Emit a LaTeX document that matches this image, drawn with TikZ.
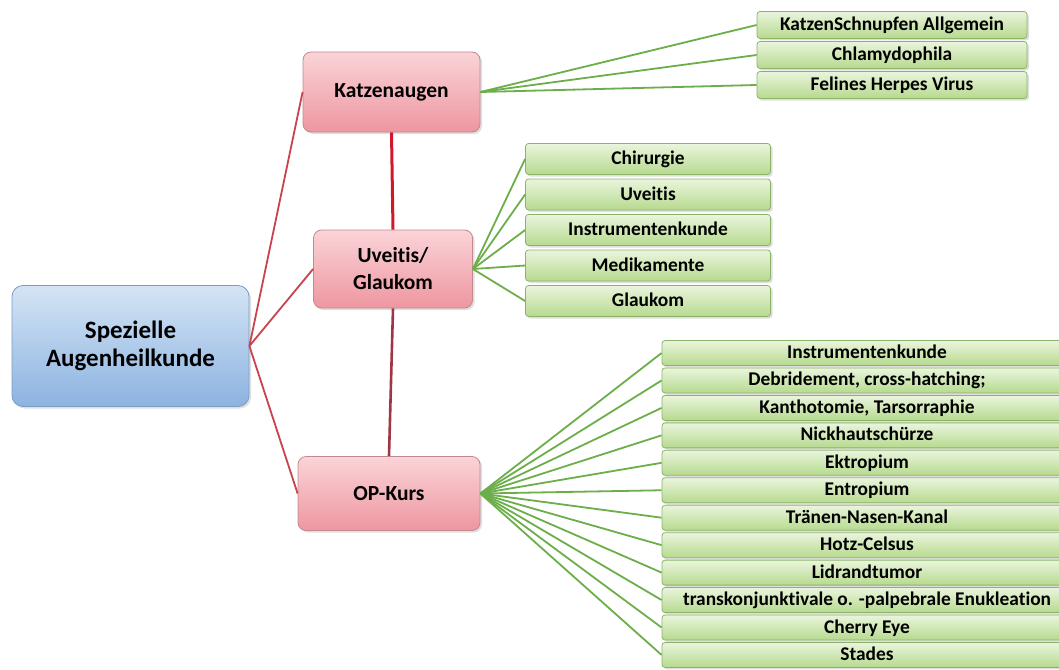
\documentclass[tikz,border=0pt]{standalone}
\usepackage{fontspec}
\setmainfont{Carlito}[Ligatures=NoCommon]
\usetikzlibrary{positioning,shadows}
\definecolor{rootTop}{HTML}{D4E4F5}
\definecolor{rootBot}{HTML}{8CB3E0}
\definecolor{rootLine}{HTML}{7C9CC4}
\definecolor{subTop}{HTML}{FAD4D8}
\definecolor{subBot}{HTML}{EE96A0}
\definecolor{subLine}{HTML}{C08A8E}
\definecolor{leafTop}{HTML}{EAF5DD}
\definecolor{leafBot}{HTML}{B6DA8E}
\definecolor{leafLine}{HTML}{8DB36A}
\definecolor{redLn}{HTML}{C8434E}
\definecolor{redBright}{HTML}{D01828}
\definecolor{redMaroon}{HTML}{9E3646}
\definecolor{greenLn}{HTML}{6BAE4A}
\tikzset{
  mapbox/.style={draw,thick,align=center,inner sep=2pt,
                 drop shadow={opacity=0.25,shadow xshift=2pt,shadow yshift=-2pt}},
  rootbox/.style={mapbox,draw=rootLine,top color=rootTop,bottom color=rootBot,
                  rounded corners=11pt,minimum width=237pt,minimum height=121pt,
                  font=\bfseries\fontsize{25}{28}\selectfont},
  subbox/.style={mapbox,draw=subLine,top color=subTop,bottom color=subBot,
                 rounded corners=8pt,font=\bfseries\fontsize{21.5}{27}\selectfont},
  leaf/.style={mapbox,draw=leafLine,top color=leafTop,bottom color=leafBot,
               rounded corners=3pt,inner sep=0pt,text height=15pt,text depth=4pt,
               font=\bfseries\fontsize{19.4}{22}\selectfont},
  kleaf/.style={leaf,minimum width=270pt,minimum height=27pt},
  uleaf/.style={leaf,minimum width=245pt,minimum height=31pt},
  oleaf/.style={leaf,minimum width=410pt,minimum height=25pt},
  rln/.style={draw=redLn,line width=1.8pt},
  gln/.style={draw=greenLn,line width=1.8pt},
}
\begin{document}
\begin{tikzpicture}[x=1pt,y=-1pt]
\useasboundingbox (0,0) rectangle (1059,669);
\clip (0,0) rectangle (1059,669);

\node[rootbox] (root) at (130.5,346) {Spezielle\\Augenheilkunde};
\node[subbox,minimum width=177pt,minimum height=80pt] (katz) at (391.5,92) {Katzenaugen};
\node[subbox,minimum width=159pt,minimum height=78pt] (uveit) at (393,269) {Uveitis/\\Glaukom};
\node[subbox,minimum width=182pt,minimum height=74pt] (opk) at (389,493.5) {OP-Kurs};

% Katzenaugen
\node[kleaf] (k1) at (892,25) {KatzenSchnupfen Allgemein};
\node[kleaf,below=2.2pt of k1] (k2) {Chlamydophila};
\node[kleaf,below=2.2pt of k2] (k3) {Felines Herpes Virus};

% Uveitis/Glaukom
\node[uleaf] (u1) at (648,159) {Chirurgie};
\node[uleaf,below=3.7pt of u1] (u2) {Uveitis};
\node[uleaf,below=3.7pt of u2] (u3) {Instrumentenkunde};
\node[uleaf,below=3.7pt of u3] (u4) {Medikamente};
\node[uleaf,below=3.7pt of u4] (u5) {Glaukom};

% OP-Kurs
\node[oleaf] (o1) at (867,353) {Instrumentenkunde};
\node[oleaf,below=1.65pt of o1] (o2) {Debridement, cross-hatching;};
\node[oleaf,below=1.65pt of o2] (o3) {Kanthotomie, Tarsorraphie};
\node[oleaf,below=1.65pt of o3] (o4) {Nickhautschürze};
\node[oleaf,below=1.65pt of o4] (o5) {Ektropium};
\node[oleaf,below=1.65pt of o5] (o6) {Entropium};
\node[oleaf,below=1.65pt of o6] (o7) {Tränen-Nasen-Kanal};
\node[oleaf,below=1.65pt of o7] (o8) {Hotz-Celsus};
\node[oleaf,below=1.65pt of o8] (o9) {Lidrandtumor};
\node[oleaf,below=1.65pt of o9] (o10) {transkonjunktivale o. -palpebrale Enukleation};
\node[oleaf,below=1.65pt of o10] (o11) {Cherry Eye};
\node[oleaf,below=1.65pt of o11] (o12) {Stades};

\draw[rln] (root.east) -- (katz.west);
\draw[rln] (root.east) -- (uveit.west);
\draw[rln] (root.east) -- (opk.west);
\draw[draw=redBright,line width=3pt] (katz.south) -- (uveit.north);
\draw[draw=redMaroon,line width=2.6pt] (uveit.south) -- (opk.north);

\foreach \n in {k1,k2,k3} \draw[gln] (katz.east) -- (\n.west);
\foreach \n in {u1,u2,u3,u4,u5} \draw[gln] (uveit.east) -- (\n.west);
\foreach \n in {o1,o2,o3,o4,o5,o6,o7,o8,o9,o10,o11,o12} \draw[gln] (opk.east) -- (\n.west);

\end{tikzpicture}
\end{document}
